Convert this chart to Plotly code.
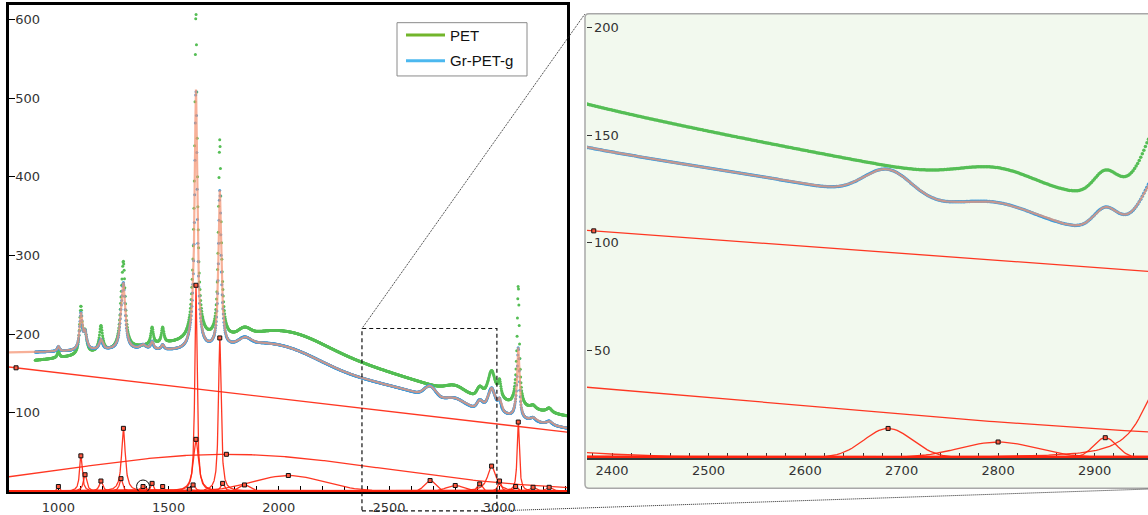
import numpy as np
import plotly.graph_objects as go

W, H = 1148, 515

# ---------------- data ----------------
# Gr-PET-g fit: linear baseline, broad background band, peaks
LINEAR_X0, LINEAR_Y0, LINEAR_SLOPE = 808.0, 157.0, -0.03276
BROAD_CENTER, BROAD_HEIGHT, BROAD_SIGMA = 1762.0, 47.0, 720.0

PEAK_CENTER = [1000, 1102, 1121, 1193, 1284, 1295, 1384, 1425, 1473, 1594, 1611, 1624, 1624,
               1732, 1745, 1844, 2043, 2686, 2800, 2911, 2965, 3001, 3074, 3086, 3153, 3226]
PEAK_WIDTH = [6, 7, 9, 9, 8, 10, 15, 7, 7, 10, 10, 6, 14,
              7, 10, 25, 160, 25, 40, 12, 22, 8, 10, 6, 15, 15]
PEAK_SHAPE = "LLLLLLLLLLLLLLLGGGGGLLLLLL"
GR_PEAK_HEIGHT = [6, 45, 21, 13, 16, 80, 6, 10, 6, 2.5, 8, 262, 66,
                  195, 10, 8, 20, 13.6, 7.3, 9.3, 32, 13, 6, 88, 5, 5]
SELECTED_PEAK = 6  # circled function

# part of the Gr-PET-g sum curve not shown as a separate function
GR_UNRESOLVED_CENTER = [1850, 2550]
GR_UNRESOLVED_HEIGHT = [8, 5]
GR_UNRESOLVED_SIGMA = [130, 200]

# PET spectrum
PET_LINEAR_X0, PET_LINEAR_Y0, PET_LINEAR_SLOPE = 808.0, 150.0, -0.024
PET_BROAD_CENTER, PET_BROAD_HEIGHT, PET_BROAD_SIGMA = 1900.0, 66.0, 630.0
PET_PEAK_HEIGHT = [8, 58, 25, 33, 20, 105, 0, 22, 20, 0, 10, 334, 80,
                   246, 12, 8, 18, 0, 8, 10, 38, 20, 8, 150, 5, 6]

DATA_START, DATA_END, DATA_STEP = 895.0, 3307.0, 1.6
LINEAR_MARKER_X_MAIN, LINEAR_MARKER_X_INSET = 808.0, 2381.0

SERIES_NAMES = ["PET", "Gr-PET-g"]
MAIN_XTICK_STEP, MAIN_XMINOR_STEP = 500, 100
MAIN_YTICKS = [100, 200, 300, 400, 500, 600]
INSET_XTICK_STEP, INSET_XMINOR_STEP = 100, 20
INSET_YTICKS = [50, 100, 150, 200]
ZOOM_X = [2377, 2989]
ZOOM_Y = [-25, 207]

# ---------------- layout geometry (pixels) ----------------
MAIN_L, MAIN_R, MAIN_T, MAIN_B = 9, 567, 5, 498
MAIN_XR, MAIN_YR = [776, 3307], [0, 618.6]
INS_L, INS_R, INS_T, INS_B = 587, 1148, 14, 464
INS_XR, INS_YR = [2374, 2955.3], [0, 206.4]
FRAME_L, FRAME_R, FRAME_T, FRAME_B = 585, 1172, 14, 495

GREEN_DOT = "#55be55"
BLUE_DOT = "#3a9bdc"
FIT_COL = "rgba(244,150,118,0.75)"
RED = "rgba(255,38,16,0.92)"


def peak(x, c, h, w, s):
    x = np.asarray(x, float)
    if s == "L":
        return h * w * w / (w * w + (x - c) ** 2)
    return h * np.exp(-(x - c) ** 2 / (2.0 * w * w))


def linear(x, x0, y0, k):
    return y0 + k * (np.asarray(x, float) - x0)


def gr_total(x):
    y = linear(x, LINEAR_X0, LINEAR_Y0, LINEAR_SLOPE)
    y = y + peak(x, BROAD_CENTER, BROAD_HEIGHT, BROAD_SIGMA, "G")
    for c, h, w, s in zip(PEAK_CENTER, GR_PEAK_HEIGHT, PEAK_WIDTH, PEAK_SHAPE):
        y = y + peak(x, c, h, w, s)
    for c, h, w in zip(GR_UNRESOLVED_CENTER, GR_UNRESOLVED_HEIGHT, GR_UNRESOLVED_SIGMA):
        y = y + peak(x, c, h, w, "G")
    return y


def pet_total(x):
    y = linear(x, PET_LINEAR_X0, PET_LINEAR_Y0, PET_LINEAR_SLOPE)
    y = y + peak(x, PET_BROAD_CENTER, PET_BROAD_HEIGHT, PET_BROAD_SIGMA, "G")
    for c, h, w, s in zip(PEAK_CENTER, PET_PEAK_HEIGHT, PEAK_WIDTH, PEAK_SHAPE):
        y = y + peak(x, c, h, w, s)
    return y


data_x = np.arange(DATA_START, DATA_END, DATA_STEP)
pet_y = pet_total(data_x)
gr_y = gr_total(data_x)
fit_x = np.arange(MAIN_XR[0], MAIN_XR[1] + 0.5, 0.5)
fit_y = gr_total(fit_x)

# component curves, joined with gaps
cx, cy = [], []
lx = np.array(MAIN_XR, float)
cx += list(lx) + [None]
cy += list(linear(lx, LINEAR_X0, LINEAR_Y0, LINEAR_SLOPE)) + [None]
bx = np.arange(MAIN_XR[0], MAIN_XR[1] + 5, 5.0)
cx += list(bx) + [None]
cy += list(peak(bx, BROAD_CENTER, BROAD_HEIGHT, BROAD_SIGMA, "G")) + [None]
for c, h, w, s in zip(PEAK_CENTER, GR_PEAK_HEIGHT, PEAK_WIDTH, PEAK_SHAPE):
    span = 15 * w if s == "L" else 5 * w
    g = np.arange(max(MAIN_XR[0], c - span), min(MAIN_XR[1], c + span), w / 8.0)
    g = np.concatenate([[MAIN_XR[0]], g, [MAIN_XR[1]]])
    cx += list(g) + [None]
    cy += list(peak(g, c, h, w, s)) + [None]


def markers(lin_x):
    mx = [lin_x, BROAD_CENTER] + list(PEAK_CENTER)
    my = [float(linear(lin_x, LINEAR_X0, LINEAR_Y0, LINEAR_SLOPE)), BROAD_HEIGHT] + list(GR_PEAK_HEIGHT)
    return mx, my


fig = go.Figure()
for xa, ya, linx, dsize in (("x", "y", LINEAR_MARKER_X_MAIN, 3), ("x2", "y2", LINEAR_MARKER_X_INSET, 3.5)):
    fig.add_trace(go.Scatter(x=data_x, y=pet_y, mode="markers", xaxis=xa, yaxis=ya,
                             marker=dict(size=dsize, color=GREEN_DOT), showlegend=False, hoverinfo="skip"))
    fig.add_trace(go.Scatter(x=data_x, y=gr_y, mode="markers", xaxis=xa, yaxis=ya,
                             marker=dict(size=dsize, color=BLUE_DOT), showlegend=False, hoverinfo="skip"))
    fig.add_trace(go.Scatter(x=fit_x, y=fit_y, mode="lines", xaxis=xa, yaxis=ya,
                             line=dict(color=FIT_COL, width=2.2), showlegend=False, hoverinfo="skip"))
    fig.add_trace(go.Scatter(x=cx, y=cy, mode="lines", xaxis=xa, yaxis=ya, connectgaps=False,
                             line=dict(color=RED, width=1.3), showlegend=False, hoverinfo="skip"))
    mx, my = markers(linx)
    fig.add_trace(go.Scatter(x=mx, y=my, mode="markers", xaxis=xa, yaxis=ya,
                             marker=dict(symbol="square", size=4, color="#ff5a40",
                                         line=dict(color="#111", width=1)),
                             showlegend=False, hoverinfo="skip"))
    if xa == "x":
        fig.add_trace(go.Scatter(x=[PEAK_CENTER[SELECTED_PEAK]], y=[GR_PEAK_HEIGHT[SELECTED_PEAK]],
                                 mode="markers", xaxis=xa, yaxis=ya,
                                 marker=dict(symbol="circle-open", size=13, color="#111",
                                             line=dict(color="#111", width=1)),
                                 showlegend=False, hoverinfo="skip"))


def fx(p):
    return p / W


def fy(p):
    return 1 - p / H


def main_px(x, y):
    px = MAIN_L + (x - MAIN_XR[0]) / (MAIN_XR[1] - MAIN_XR[0]) * (MAIN_R - MAIN_L)
    py = MAIN_B - (y - MAIN_YR[0]) / (MAIN_YR[1] - MAIN_YR[0]) * (MAIN_B - MAIN_T)
    return px, py


tickfont = dict(family="DejaVu Sans", size=13, color="#333")
fig.update_layout(
    width=W, height=H, margin=dict(l=0, r=0, t=0, b=0),
    paper_bgcolor="white", plot_bgcolor="rgba(0,0,0,0)", showlegend=False,
    xaxis=dict(domain=[fx(MAIN_L), fx(MAIN_R)], range=MAIN_XR, anchor="y",
               showgrid=False, zeroline=False, showline=True, linecolor="black", linewidth=2.5,
               mirror=True, ticks="inside", ticklen=5, tickwidth=1, tickcolor="black",
               dtick=MAIN_XTICK_STEP, tick0=0, tickfont=tickfont, layer="below traces",
               ticklabelstandoff=2,
               minor=dict(dtick=MAIN_XMINOR_STEP, tick0=0, ticks="inside", ticklen=5,
                          tickcolor="black", tickwidth=1, showgrid=False)),
    yaxis=dict(domain=[fy(MAIN_B), fy(MAIN_T)], range=MAIN_YR, anchor="x",
               showgrid=False, zeroline=False, showline=True, linecolor="black", linewidth=2.5,
               mirror=True, ticks="inside", ticklen=6, tickwidth=1, tickcolor="black",
               tickvals=MAIN_YTICKS, ticklabelposition="inside", tickfont=tickfont,
               layer="below traces"),
    xaxis2=dict(domain=[fx(INS_L), fx(INS_R)], range=INS_XR, anchor="y2",
                showgrid=False, zeroline=False, showline=True, linecolor="#3a3a3a", linewidth=1.6,
                ticks="inside", ticklen=5, tickwidth=1, tickcolor="#333",
                dtick=INSET_XTICK_STEP, tick0=0, tickfont=tickfont, layer="below traces",
                minor=dict(dtick=INSET_XMINOR_STEP, tick0=0, ticks="inside", ticklen=5,
                           tickcolor="#333", tickwidth=1, showgrid=False)),
    yaxis2=dict(domain=[fy(INS_B), fy(INS_T)], range=INS_YR, anchor="x2",
                showgrid=False, zeroline=False, showline=False, showticklabels=False,
                ticks="inside", ticklen=5, tickwidth=1, tickcolor="#333",
                tickvals=INSET_YTICKS),
)

annotations = []
# inset y tick labels (placed next to the inside ticks)
for v in INSET_YTICKS:
    annotations.append(dict(xref="paper", yref="y2", x=fx(INS_L), y=v, text=str(v),
                            showarrow=False, xanchor="left", yanchor="middle", xshift=5,
                            font=tickfont))

shapes = []
# inset frame with rounded corners
r = 4.0
x0, x1, y0, y1 = FRAME_L, FRAME_R, FRAME_T, FRAME_B
pts = [("M", x0 + r, y0), ("L", x1 - r, y0), ("Q", x1, y0, x1, y0 + r), ("L", x1, y1 - r),
       ("Q", x1, y1, x1 - r, y1), ("L", x0 + r, y1), ("Q", x0, y1, x0, y1 - r),
       ("L", x0, y0 + r), ("Q", x0, y0, x0 + r, y0)]
path = ""
for p in pts:
    if p[0] == "Q":
        path += "Q%.5f,%.5f %.5f,%.5f " % (fx(p[1]), fy(p[2]), fx(p[3]), fy(p[4]))
    else:
        path += "%s%.5f,%.5f " % (p[0], fx(p[1]), fy(p[2]))
path += "Z"
shapes.append(dict(type="path", xref="paper", yref="paper", path=path, layer="below",
                   fillcolor="#f2f9ee", line=dict(color="#a8a8a8", width=1.5)))

# zoom box in the main plot and connector lines
bx0, by_top = main_px(ZOOM_X[0], ZOOM_Y[1])
bx1, by_bot = main_px(ZOOM_X[1], ZOOM_Y[0])
shapes.append(dict(type="rect", xref="paper", yref="paper", x0=fx(bx0), x1=fx(bx1),
                   y0=fy(by_bot), y1=fy(by_top), layer="above",
                   line=dict(color="#111", width=1.2, dash="4px,3px")))
shapes.append(dict(type="line", xref="paper", yref="paper", x0=fx(bx0), y0=fy(by_top),
                   x1=fx(FRAME_L), y1=fy(FRAME_T), layer="above",
                   line=dict(color="#222", width=1, dash="1px,1px")))
shapes.append(dict(type="line", xref="paper", yref="paper", x0=fx(bx1), y0=fy(by_bot),
                   x1=fx(FRAME_R), y1=fy(FRAME_B), layer="above",
                   line=dict(color="#222", width=1, dash="1px,1px")))

# legend
LEG_L, LEG_R, LEG_T, LEG_B = 397, 527, 23, 77
shapes.append(dict(type="rect", xref="paper", yref="paper", x0=fx(LEG_L), x1=fx(LEG_R),
                   y0=fy(LEG_B), y1=fy(LEG_T), layer="above", fillcolor="white",
                   line=dict(color="#8a8a8a", width=1)))
legend_cols = ["#72b52b", "#4cb8ef"]
legend_rows = [35.5, 61.5]
for name, col, yy in zip(SERIES_NAMES, legend_cols, legend_rows):
    shapes.append(dict(type="line", xref="paper", yref="paper", x0=fx(406), x1=fx(445),
                       y0=fy(yy), y1=fy(yy), layer="above", line=dict(color=col, width=3)))
    annotations.append(dict(xref="paper", yref="paper", x=fx(448), y=fy(yy), text=name,
                            showarrow=False, xanchor="left", yanchor="middle",
                            font=dict(family="Liberation Sans", size=15, color="#111")))

fig.update_layout(shapes=shapes, annotations=annotations)
fig.write_html("out.html")
